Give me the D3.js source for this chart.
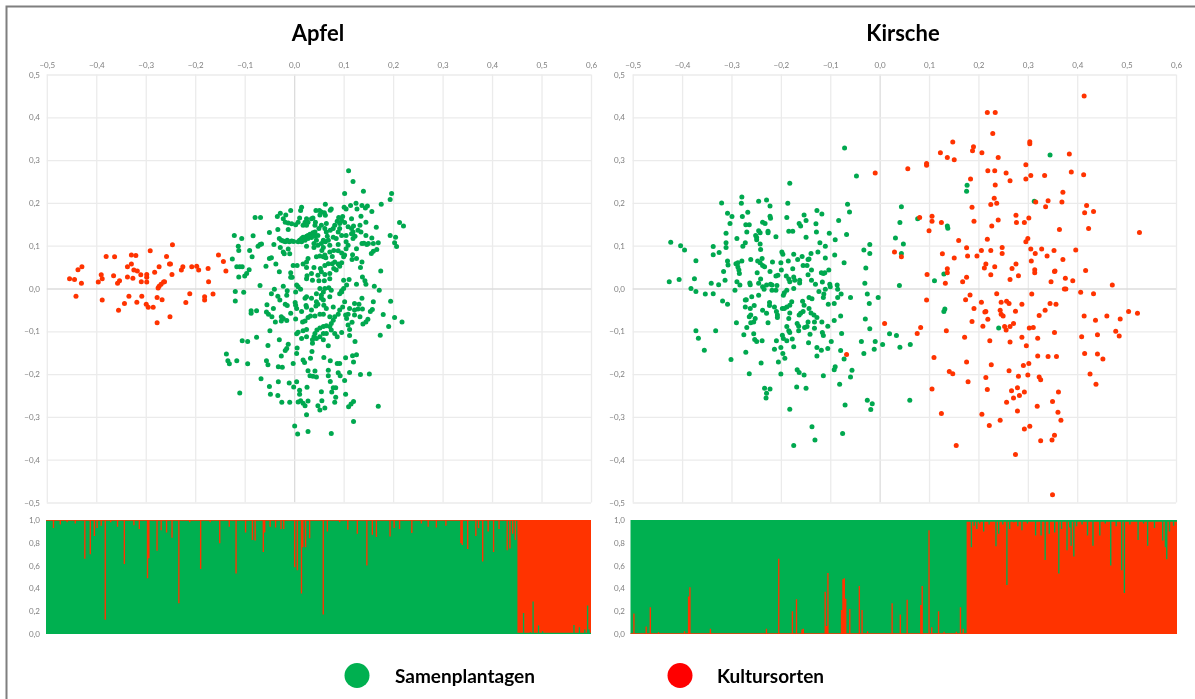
<!DOCTYPE html>
<html lang="de">
<head>
<meta charset="utf-8">
<title>Apfel und Kirsche</title>
<script src="https://cdn.jsdelivr.net/npm/d3@7"></script>
<style>
html,body{margin:0;padding:0;background:#fff;overflow:hidden}
svg{display:block;filter:blur(.35px)}
text{font-family:Lato,"Open Sans",sans-serif}
</style>
</head>
<body>
<svg id="chart" width="1195" height="699"></svg>
<script>
const xTickValues = [-0.5,-0.4,-0.3,-0.2,-0.1,0,0.1,0.2,0.3,0.4,0.5,0.6];
const yTickValues = [-0.5,-0.4,-0.3,-0.2,-0.1,0,0.1,0.2,0.3,0.4,0.5];
const shareTickValues = [0,0.2,0.4,0.6,0.8,1];
const titles = ["Apfel","Kirsche"];
const legendLabels = ["Samenplantagen","Kultursorten"];

const apfelRed = [[-.454,.023],[-.444,.021],[-.437,.044],[-.429,.051],[-.430,.012],[-.441,-.018],[-.388,-.027],[-.396,.015],[-.390,.032],[-.388,.023],[-.380,.075],[-.363,.074],[-.365,.030],[-.353,.018],[-.357,.012],[-.355,-.051],[-.343,-.035],[-.334,-.018],[-.337,.027],[-.326,.024],[-.337,.051],[-.329,.057],[-.329,.078],[-.320,.077],[-.324,.043],[-.317,.041],[-.310,.032],[-.309,.016],[-.298,.033],[-.298,.026],[-.298,.015],[-.291,.088],[-.282,.038],[-.273,.051],[-.258,.075],[-.252,.057],[-.250,.057],[-.247,.033],[-.246,.102],[-.275,.001],[-.273,.005],[-.269,.010],[-.264,.015],[-.262,.016],[-.308,-.018],[-.318,-.032],[-.299,-.037],[-.295,-.044],[-.285,-.044],[-.277,-.021],[-.267,-.026],[-.277,-.080],[-.251,-.066],[-.228,.043],[-.225,.051],[-.207,.051],[-.197,.052],[-.193,.043],[-.174,.047],[-.173,.016],[-.211,-.012],[-.219,-.033],[-.181,-.019],[-.181,-.027],[-.164,-.013],[-.153,.078],[-.143,.063],[-.138,.041]];

const apfelGreen = [[.110,.275],[.119,.250],[.102,.222],[.140,.227],[.197,.222],[.194,.208],[.176,.197],[.063,.197],[.114,.194],[.125,.199],[.137,.194],[.148,.193],[.144,.188],[.157,.180],[.101,.190],[.105,.186],[.127,.186],[.075,.186],[.073,.183],[.015,.190],[.013,.182],[.044,.182],[.051,.182],[.055,.179],[.061,.177],[.052,.172],[.063,.171],[-.007,.182],[-.028,.176],[-.017,.172],[-.034,.168],[-.079,.166],[-.068,.166],[-.022,.163],[-.018,.155],[-.012,.153],[-.005,.151],[.003,.149],[.011,.165],[.038,.165],[.022,.155],[.028,.155],[.018,.148],[.025,.148],[.098,.168],[.090,.166],[.087,.157],[.096,.159],[.102,.154],[.116,.163],[.135,.169],[.145,.155],[.120,.146],[.116,.140],[.133,.148],[.166,.143],[.213,.154],[.221,.146],[.194,.124],[.205,.120],[.203,.107],[.207,.098],[.170,.107],[.157,.118],[.145,.124],[.135,.132],[.147,.103],
[-.121,.124],[-.106,.117],[-.113,.099],[-.112,.089],[-.125,.069],[-.083,.123],[-.090,.089],[-.085,.074],[-.073,.099],[-.069,.103],[-.066,.104],[-.050,.131],[-.041,.103],[-.033,.138],[-.012,.138],[-.030,.117],[-.026,.113],[-.022,.111],[-.018,.109],[-.014,.113],[-.010,.109],[-.005,.111],[-.001,.110],[-.028,.096],[-.022,.085],[-.020,.081],[-.012,.092],[-.050,.070],[-.046,.072],[-.037,.057],[-.057,.052],[-.030,.039],[-.009,.081],
[.008,.109],[.011,.113],[.015,.117],[.018,.120],[.022,.119],[.025,.122],[.028,.124],[.032,.127],[.035,.124],[.038,.130],[.042,.132],[.015,.109],[.022,.113],[.028,.117],[.035,.119],[.042,.122],[.025,.099],[.040,.105],[.040,.096],[.055,.105],[.059,.096],[.056,.089],[.063,.109],[.050,.140],[.065,.132],[.073,.136],[.079,.140],[.079,.120],[.085,.117],[.067,.122],[.105,.124],[.105,.109],[.119,.117],[.123,.122],[.126,.093],[.137,.105],[.141,.106],[.105,.093],[.089,.103],[.080,.089],[.089,.088],[.096,.083],[.102,.078],[.118,.079],[.117,.068],[.126,.070],[.137,.062],[.134,.049],[.100,.074],[.156,.082],[.167,.091],[.175,.041],[.160,.087],
[.045,.074],[.052,.076],[.059,.074],[.064,.072],[.077,.075],[.082,.062],[.089,.057],[.096,.060],[.092,.052],[.077,.058],[.069,.058],[.028,.070],[.025,.062],[.018,.057],[.025,.049],[.040,.049],[.055,.039],[.062,.033],[.072,.035],[.080,.047],[.085,.043],[.026,.030],[.025,.023],[.037,.019],[.050,.018],[.061,.018],[.100,.019],[.111,.021],[.106,.008],[.138,.027],[.143,.018],[.145,.010],[.126,.010],[-.007,.037],[-.004,.026],[-.007,.026],[-.002,.054],[.006,.054],[-.110,.051],[-.116,.051],[-.105,.051],[-.091,.044],[-.096,.035],[-.100,.029],[-.112,.027],[-.069,.007],[.162,.005],[.172,-.004],
[-.022,.005],[.005,.008],[.008,.004],[.013,-.002],[-.040,-.002],[-.046,-.012],[-.033,-.018],[-.014,-.005],[-.015,-.016],[.003,-.008],[-.119,-.007],[-.102,-.009],[-.119,-.029],[-.055,-.038],[-.018,-.037],[-.014,-.040],[.002,-.033],[.003,-.039],[.022,-.023],[.024,-.040],[.025,-.044],[.045,-.031],[.048,-.037],[.044,-.041],[.055,-.016],[.062,0],[.052,0],[.070,.002],[.075,-.004],[.059,-.027],[.060,-.039],[.055,-.023],[.092,-.012],[.096,-.005],[.100,0],[.137,-.023],[.102,-.031],[.098,-.043],[.092,-.050],[.122,-.035],[.131,-.037],[.129,-.048],[.138,-.048],[.154,-.054],[.158,-.049],[.160,-.031],[.195,-.030],[.180,-.061],[.203,-.068],[.218,-.078],[.191,-.089],[.174,-.109],[.149,-.072],[.145,-.078],[.139,-.083],
[-.087,-.052],[-.087,-.058],[-.076,-.052],[-.056,-.055],[-.052,-.060],[-.045,-.066],[-.038,-.078],[-.026,-.066],[-.022,-.070],[-.026,-.076],[-.015,-.075],[-.007,-.058],[.003,-.071],[-.049,-.099],[.017,-.078],[.022,-.076],[.028,-.068],[.033,-.064],[.042,-.064],[.052,-.060],[.059,-.060],[.072,-.066],[.082,-.066],[.089,-.060],[.104,-.062],[.109,-.060],[.122,-.062],[.106,-.070],[.117,-.079],[.109,-.085],[.112,-.096],[.079,-.074],[.075,-.082],[.072,-.089],[.065,-.087],[.059,-.089],[.052,-.092],[.046,-.097],[.042,-.105],[.040,-.113],[.037,-.120],[.037,-.128],[.045,-.117],[.052,-.113],[.059,-.105],[.075,-.097],[.082,-.105],[.087,-.113],[.096,-.103],[.025,-.096],[.018,-.099],[.008,-.102],[.005,-.106],[.015,-.117],[.112,-.110],[.123,-.124],[.069,-.134],
[-.105,-.122],[-.094,-.124],[-.076,-.114],[-.053,-.133],[-.030,-.120],[-.012,-.130],[-.015,-.140],[-.018,-.145],[.006,-.139],[.005,-.152],[.036,-.147],[-.137,-.153],[-.134,-.169],[-.131,-.176],[-.116,-.169],[-.094,-.176],[-.056,-.169],[-.053,-.178],[-.026,-.158],[-.032,-.183],[-.024,-.184],[-.002,-.175],[.018,-.167],[.021,-.173],[.033,-.163],[.060,-.161],[.073,-.169],[.087,-.175],[.092,-.175],[.104,-.162],[.118,-.157],[.126,-.155],[.120,-.172],
[.028,-.192],[.042,-.193],[.069,-.191],[.089,-.197],[.112,-.196],[.134,-.201],[.152,-.200],[.032,-.204],[.038,-.205],[.045,-.207],[.069,-.204],[.093,-.204],[.073,-.217],[.102,-.215],[-.067,-.211],[-.032,-.218],[-.010,-.221],[.005,-.218],[-.050,-.229],[-.001,-.230],[.026,-.231],[.011,-.238],[.011,-.247],[.055,-.241],[.079,-.232],[.084,-.232],[.076,-.242],[.104,-.247],[-.110,-.244],[-.048,-.247],[-.033,-.250],[-.025,-.266],[-.009,-.266],[.008,-.265],[.013,-.262],[.018,-.268],[.022,-.274],[.028,-.263],[.056,-.262],[.048,-.274],[.052,-.284],[.062,-.279],[.082,-.266],[.084,-.254],[.110,-.276],[.115,-.270],[.120,-.264],[.170,-.275],[.025,-.295],[.120,-.311],[.001,-.321],[.007,-.340],[.028,-.334],[.075,-.339],
[.092,.152],[.109,.144],[.129,.136],[.116,.128],[.150,.105],[.160,.105],[.072,.101],[.048,.101],[.059,.113],[.096,.124],[.082,.148],[.065,.152],[.043,.155],[.035,.163],[.008,.155],
[.045,.113],[.048,.124],[.069,.113],[.092,.140],[.089,.132],[.109,.101],[.119,.132],[.062,.140],[.055,.148],[.042,.148],[.025,.163],[.062,.078],[.072,.085],[.062,.054],[.053,.047],[.035,.035],[.048,.031],[.072,.023],[.096,-.008],[.045,-.012],[.059,-.008],[.035,-.023],[.025,-.019],[.072,-.019],[.079,-.043],[.065,-.047],[.035,-.050],[.015,-.054],[.005,-.047],[-.029,-.027],[-.042,-.047],[.112,-.047],[.122,-.050],[.133,-.066],[.059,-.120],[.025,-.113],[.065,-.105]];

const kirscheGreen = [[-.071,.328],[-.047,.263],[-.182,.246],[-.279,.214],[-.280,.199],[-.320,.200],[-.245,.204],[-.229,.207],[-.222,.193],[-.186,.199],[-.065,.197],[-.061,.179],[-.308,.176],[-.299,.168],[-.278,.168],[-.267,.178],[-.222,.169],[-.221,.164],[-.188,.166],[-.153,.172],[-.127,.182],[-.117,.174],[-.149,.159],[-.083,.159],[-.303,.152],[-.271,.149],[-.264,.149],[-.237,.155],[-.232,.152],[-.163,.152],[-.160,.146],[-.129,.151],[-.269,.132],[-.245,.135],[-.242,.130],[-.226,.134],[-.226,.130],[-.184,.134],[-.176,.134],[-.128,.132],[-.102,.129],[-.067,.126],[-.311,.129],[-.289,.117],[-.251,.124],[-.249,.119],[-.249,.114],[-.210,.121],[-.149,.120],[-.090,.114],[-.311,.107],[-.272,.107],[-.277,.099],[-.242,.104],[-.121,.107],[-.110,.099],[-.337,.098],[-.311,.096],[-.423,.108],[-.403,.100],[-.395,.090],[-.337,.079],[-.325,.084],[-.241,.091],[-.032,.090],[-.020,.103],[-.020,.082],[-.091,.078],[-.072,.060],[-.028,.048],[-.030,.012],[-.025,-.013],[-.021,-.035],[-.003,-.021],[-.059,-.021],[-.372,.065],[-.375,.023],[-.426,.016],[-.406,.021],[-.382,0],[-.372,-.007],[-.353,-.013],[-.337,-.012],[-.341,.012],[-.326,.009],[-.313,.019],[-.316,.040],[-.308,.064],[-.307,.055],[-.291,.058],[-.287,.060],[-.279,.064],[-.287,.050],[-.285,.043],[-.284,.035],[-.261,.068],[-.247,.064],[-.242,.060],[-.238,.070],[-.237,.054],[-.233,.051],[-.217,.062],[-.248,.037],[-.222,.040],[-.241,.022],[-.289,.016],[-.283,.008],[-.263,.013],[-.262,.009],[-.293,-.004],[-.245,.012],[-.237,.004],[-.234,-.002],[-.229,.008],[-.221,.010],[-.218,.008],[-.208,.007],[-.218,-.004],[-.210,-.004],[-.206,.031],[-.210,.029],[-.199,.043],[-.200,.060],[-.198,.085],[-.196,.080],[-.185,.064],[-.174,.080],[-.166,.068],[-.157,.075],[-.155,.054],[-.145,.068],[-.143,.069],[-.147,.054],[-.139,.082],[-.125,.085],[-.110,.071],[-.103,.043],[-.111,.037],[-.118,.037],[-.114,.035],[-.176,.046],[-.138,.043],[-.145,.032],[-.138,.019],[-.130,.010],[-.189,.029],[-.184,.022],[-.182,.016],[-.174,.027],[-.172,.019],[-.162,.019],[-.162,.013],[-.116,.015],[-.101,.010],[-.100,.004],[-.086,.008],[-.174,0],[-.188,-.004],[-.193,-.010],[-.195,-.016],[-.110,-.002],[-.113,-.013],[-.123,-.007],[-.114,-.021],[-.085,-.002],[-.078,-.013],[-.085,-.021],[-.092,-.035],[-.104,-.037],[-.270,-.026],[-.259,-.019],[-.245,-.016],[-.318,-.029],[-.308,-.037],[-.272,-.027],[-.272,-.043],[-.254,-.040],[-.262,-.047],[-.223,-.033],[-.223,-.040],[-.213,-.043],[-.188,-.043],[-.182,-.039],[-.178,-.031],[-.197,-.047],[-.193,-.047],[-.156,-.030],[-.153,-.039],[-.143,-.021],[-.137,-.024],[-.237,-.051],[-.229,-.058],[-.261,-.062],[-.264,-.066],[-.209,-.054],[-.207,-.062],[-.207,-.068],[-.182,-.057],[-.184,-.070],[-.163,-.062],[-.155,-.054],[-.160,-.058],[-.143,-.047],[-.139,-.057],[-.133,-.062],[-.127,-.068],[-.252,-.070],[-.255,-.078],[-.261,-.080],[-.290,-.080],[-.226,-.080],[-.269,-.091],[-.188,-.089],[-.184,-.099],[-.167,-.082],[-.164,-.088],[-.145,-.078],[-.132,-.078],[-.152,-.091],[-.147,-.089],[-.117,-.078],[-.105,-.088],[-.092,-.075],[-.079,-.064],[-.275,-.108],[-.255,-.106],[-.253,-.119],[-.249,-.124],[-.238,-.122],[-.209,-.122],[-.197,-.109],[-.195,-.117],[-.188,-.122],[-.182,-.103],[-.177,-.118],[-.164,-.099],[-.141,-.107],[-.132,-.093],[-.116,-.103],[-.114,-.110],[-.144,-.127],[-.098,-.124],[-.077,-.105],[-.372,-.099],[-.332,-.099],[-.367,-.116],[-.355,-.144],[-.271,-.149],[-.301,-.166],[-.213,-.142],[-.200,-.138],[-.174,-.136],[-.127,-.138],[-.118,-.144],[-.105,-.140],[-.079,-.145],[-.127,-.158],[-.196,-.152],[-.192,-.163],[-.205,-.172],[-.240,-.174],[-.264,-.199],[-.200,-.200],[-.167,-.190],[-.163,-.196],[-.153,-.202],[-.114,-.204],[-.092,-.190],[-.090,-.183],[-.072,-.165],[-.056,-.191],[-.059,-.207],[-.037,-.124],[-.009,-.124],[-.011,-.142],[-.032,-.152],[.006,-.131],[.020,-.106],[.034,-.110],[.041,-.137],[-.020,-.094],[-.029,-.071],[-.233,-.233],[-.222,-.235],[-.229,-.245],[-.230,-.256],[-.168,-.230],[-.149,-.233],[-.081,-.224],[-.070,-.272],[-.025,-.261],[-.015,-.269],[-.018,-.283],[-.182,-.282],[-.137,-.323],[-.075,-.339],[-.131,-.354],[-.174,-.367],[.061,-.261],[.044,.191],[.041,.154],[.032,.118],[.048,.104],[.044,.082],[.040,.007],[.062,-.131],[.345,.312],[.313,.204],[.177,.241],[.176,.227],[.077,.163],[.137,.146],[.138,.141],[.130,.034],[.111,.018],[.132,-.048],[.130,-.054],[.241,-.092]];

const kirscheRed = [[-.009,.270],[.010,-.082],[-.067,-.154],[.414,.450],[.218,.411],[.234,.411],[.229,.362],[.148,.342],[.190,.331],[.188,.322],[.304,.343],[.304,.338],[.123,.317],[.207,.317],[.384,.314],[.137,.306],[.151,.301],[.240,.306],[.095,.292],[.095,.288],[.296,.289],[.057,.280],[.219,.275],[.233,.275],[.256,.270],[.388,.272],[.413,.266],[.306,.264],[.296,.256],[.334,.264],[.184,.256],[.264,.252],[.234,.242],[.371,.225],[.232,.211],[.237,.199],[.225,.196],[.341,.205],[.316,.202],[.369,.202],[.336,.191],[.187,.190],[.419,.194],[.415,.177],[.433,.180],[.276,.171],[.302,.165],[.240,.160],[.106,.169],[.106,.157],[.081,.166],[.125,.154],[.191,.157],[.277,.154],[.293,.154],[.227,.146],[.100,.135],[.364,.138],[.423,.140],[.526,.131],[.218,.115],[.160,.112],[.300,.117],[.296,.109],[.176,.095],[.248,.096],[.248,.082],[.206,.089],[.225,.089],[.306,.092],[.315,.082],[.328,.092],[.353,.089],[.397,.090],[.339,.076],[.030,.085],[.044,.074],[.127,.081],[.151,.071],[.178,.076],[.197,.076],[.371,.068],[.307,.064],[.215,.057],[.212,.048],[.233,.051],[.276,.057],[.268,.047],[.137,.046],[.137,.037],[.096,.033],[.314,.044],[.314,.037],[.354,.040],[.355,.041],[.417,.042],[.225,.032],[.281,.030],[.176,.026],[.168,.016],[.264,.021],[.376,.024],[.133,.012],[.347,.016],[.391,.018],[.471,.008],[.374,-.001],[.377,-.001],[.407,-.009],[.433,-.012],[.237,-.012],[.308,-.013],[.183,-.015],[.174,-.026],[.095,-.027],[.206,-.032],[.246,-.032],[.257,-.030],[.262,-.035],[.288,-.037],[.345,-.035],[.357,-.037],[.191,-.047],[.215,-.054],[.213,-.055],[.244,-.051],[.246,-.060],[.250,-.064],[.275,-.053],[.335,-.051],[.323,-.063],[.414,-.064],[.437,-.074],[.460,-.064],[.487,-.071],[.504,-.054],[.522,-.058],[.219,-.072],[.187,-.077],[.271,-.082],[.264,-.089],[.253,-.089],[.256,-.097],[.209,-.088],[.083,-.091],[.076,-.105],[.135,-.099],[.303,-.092],[.311,-.091],[.354,-.103],[.478,-.100],[.485,-.111],[.441,-.108],[.409,-.113],[.172,-.114],[.288,-.114],[.320,-.116],[.223,-.122],[.264,-.125],[.297,-.134],[.110,-.161],[.415,-.152],[.441,-.153],[.452,-.165],[.320,-.158],[.341,-.159],[.358,-.159],[.176,-.172],[.302,-.175],[.291,-.180],[.226,-.178],[.262,-.192],[.141,-.194],[.148,-.199],[.426,-.200],[.215,-.208],[.281,-.205],[.300,-.202],[.323,-.207],[.326,-.213],[.179,-.218],[.438,-.224],[.106,-.235],[.218,-.236],[.279,-.232],[.267,-.239],[.293,-.242],[.283,-.250],[.271,-.256],[.362,-.242],[.257,-.266],[.350,-.264],[.319,-.275],[.279,-.286],[.361,-.289],[.125,-.292],[.207,-.294],[.244,-.308],[.367,-.308],[.222,-.320],[.304,-.322],[.293,-.328],[.354,-.343],[.349,-.354],[.326,-.356],[.155,-.367],[.275,-.388],[.350,-.482]];

// Share of "Kultursorten" per individual: group sizes, usual level of each group, and the individuals that differ.
const apfelGroupSizes = [346,54];
const apfelGroupLevels = [.007,.99];
const apfelDeviations = [[5,.07],[10,.04],[15,.02],[21,.03],[28,.34],[32,.30],[35,.14],[37,.07],[40,.05],[43,.875],[47,.02],[52,.06],[57,.385],[64,.045],[68,.08],[74,.51],[75,.335],[81,.27],[84,.09],[88,.11],[92,.155],[97,.73],[105,.02],[113,.43],[120,.02],[127,.205],[134,.06],[139,.47],[146,.11],[151,.175],[153,.18],[159,.28],[160,.11],[164,.06],[168,.065],[172,.08],[174,.08],[182,.415],[184,.44],[187,.645],[188,.24],[190,.24],[193,.16],[203,.83],[206,.10],[215,.02],[221,.085],[228,.12],[235,.40],[239,.13],[242,.15],[252,.145],[255,.07],[259,.08],[268,.115],[275,.03],[280,.06],[286,.065],[293,.05],[304,.205],[305,.22],[309,.255],[315,.14],[317,.07],[320,.365],[324,.10],[328,.28],[332,.08],[338,.265],[340,.25],[342,.12],[344,.175],[350,.815],[355,.985],[357,.715],[361,.925],[364,.975],[387,.92],[391,.94],[395,.96],[397,.75],[398,.96]];
const kirscheGroupSizes = [246,154];
const kirscheGroupLevels = [.006,.985];
const kirscheDeviations = [[2,.18],[11,.065],[14,.235],[20,.015],[39,.025],[42,.33],[43,.41],[58,.045],[99,.045],[108,.66],[118,.20],[121,.305],[125,.04],[126,.045],[142,.37],[143,.07],[144,.535],[154,.21],[155,.48],[156,.49],[157,.31],[160,.22],[167,.42],[169,.21],[173,.025],[191,.27],[197,.17],[202,.30],[212,.255],[213,.42],[218,.91],[220,.06],[225,.2],[229,.02],[238,.02],[241,.235],[243,.045],
[249,.76],[251,.95],[253,.92],[255,.97],[258,.90],[262,.96],[267,.77],[269,.88],[272,.96],[275,.43],[277,.92],[280,.98],[283,.945],[286,.91],[290,.97],[296,.865],[300,.865],[303,.65],[306,.88],[310,.89],[313,.53],[315,.92],[319,.735],[321,.935],[322,.775],[324,.68],[326,.945],[330,.96],[334,.865],[338,.775],[343,.865],[347,.97],[351,.60],[355,.945],[359,.56],[361,.36],[365,.96],[371,.825],[375,.97],[378,.775],[383,.93],[389,.82],[391,.76],[392,.655],[394,.90],[397,.95]];

const GREEN="#00a84f", RED="#ff3300", BAR_GREEN="#00b050";
const comma = d3.format(".1f");
const fmt = v => comma(v).replace(".",",");

const svg = d3.select("#chart");
svg.append("path").attr("d","M6.5,699V6.5H1195").attr("fill","none").attr("stroke","#7f7f7f").attr("stroke-width",2);

const panels = [
 {title:titles[0],titleX:318,green:apfelGreen,red:apfelRed,xr:[46.8,591],labelX:40,
  sizes:apfelGroupSizes,levels:apfelGroupLevels,dev:apfelDeviations,barX:[46,591],redOnTop:true},
 {title:titles[1],titleX:903,green:kirscheGreen,red:kirscheRed,xr:[632.7,1176],labelX:625,
  sizes:kirscheGroupSizes,levels:kirscheGroupLevels,dev:kirscheDeviations,barX:[630.5,1177],redOnTop:false}
];

panels.forEach(p=>{
  const x=d3.scaleLinear().domain([-.5,.6]).range(p.xr);
  const y=d3.scaleLinear().domain([-.5,.5]).range([502.5,74.5]);
  const g=svg.append("g");
  g.append("text").attr("x",p.titleX).attr("y",41).attr("text-anchor","middle")
    .attr("font-size",22).attr("font-weight",700).attr("fill","#000").text(p.title);

  const gridX=g.append("g").attr("transform",`translate(0,${y.range()[1]})`)
    .call(d3.axisTop(x).tickValues(xTickValues).tickFormat(fmt).tickSize(-(y.range()[0]-y.range()[1])).tickPadding(7));
  const gridY=g.append("g").attr("transform",`translate(${p.xr[0]},0)`)
    .call(d3.axisLeft(y).tickValues(yTickValues).tickFormat(fmt).tickSize(-(p.xr[1]-p.xr[0])).tickPadding(p.xr[0]-p.labelX));
  [gridX,gridY].forEach(a=>{
    a.select(".domain").remove();
    a.selectAll(".tick line").attr("stroke",d=>d===0?"#dcdcdc":"#ebebeb").attr("stroke-width",d=>d===0?1.3:1.3);
    a.selectAll(".tick text").attr("fill","#7f7f7f").attr("font-size",8);
  });

  g.append("g").selectAll("circle").data(p.green).join("circle")
    .attr("cx",d=>x(d[0])).attr("cy",d=>y(d[1])).attr("r",2.5).attr("fill",GREEN);
  g.append("g").selectAll("circle").data(p.red).join("circle")
    .attr("cx",d=>x(d[0])).attr("cy",d=>y(d[1])).attr("r",2.5).attr("fill",RED);

  // admixture bars
  const n=d3.sum(p.sizes);
  const shares=[];
  p.sizes.forEach((s,gi)=>{ for(let i=0;i<s;i++) shares.push(p.levels[gi]); });
  p.dev.forEach(([i,v])=>{ shares[i]=v; });
  const bx=d3.scaleLinear().domain([0,n]).range(p.barX);
  const by=d3.scaleLinear().domain([0,1]).range([634,520]);
  g.append("rect").attr("x",p.barX[0]).attr("y",by(1)).attr("width",p.barX[1]-p.barX[0]).attr("height",by(0)-by(1)).attr("fill",BAR_GREEN);
  const series=shares.map((v,i)=>({i,v})).concat([{i:n,v:shares[n-1]}]);
  const area=d3.area().curve(d3.curveStepAfter).x(d=>bx(d.i))
    .y0(d=>p.redOnTop?by(1):by(0))
    .y1(d=>p.redOnTop?by(1-d.v):by(d.v));
  g.append("path").datum(series).attr("d",area).attr("fill",RED);
  const axisB=g.append("g").attr("transform",`translate(${p.barX[0]},0)`)
    .call(d3.axisLeft(by).tickValues(shareTickValues).tickFormat(fmt).tickSize(0).tickPadding(p.barX[0]-p.labelX));
  axisB.select(".domain").remove();
  axisB.selectAll(".tick text").attr("fill","#7f7f7f").attr("font-size",8);
});

// legend
const legend=svg.append("g");
[{cx:357,tx:395,c:"#00b050",t:legendLabels[0]},{cx:680,tx:717,c:"#ff0000",t:legendLabels[1]}].forEach(l=>{
  legend.append("circle").attr("cx",l.cx).attr("cy",675.5).attr("r",12.5).attr("fill",l.c);
  legend.append("text").attr("x",l.tx).attr("y",683).attr("font-size",19).attr("font-weight",700).attr("fill","#000").text(l.t);
});
</script>
</body>
</html>
